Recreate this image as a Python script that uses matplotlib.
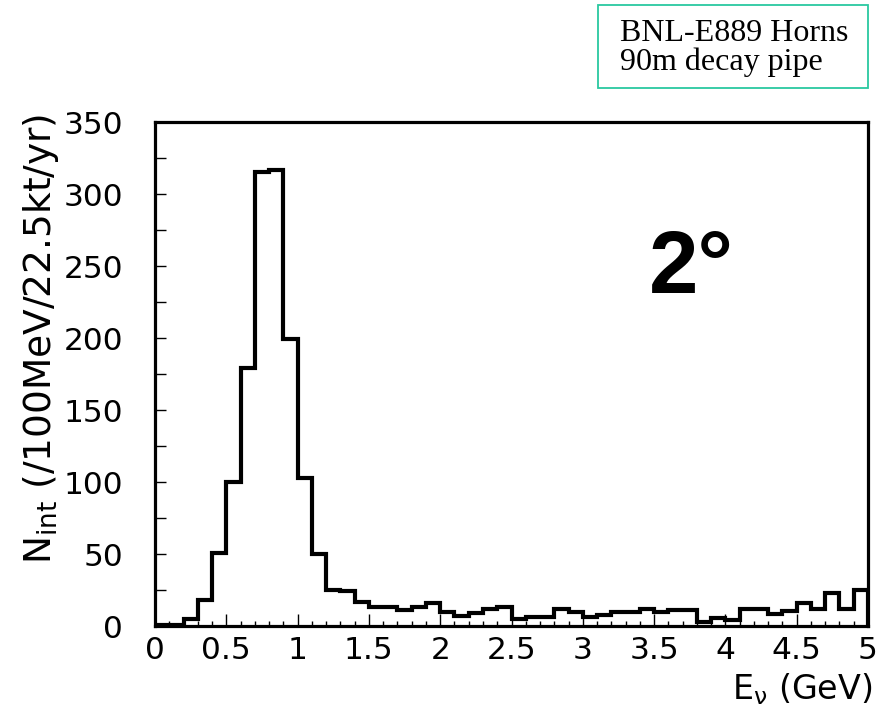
import matplotlib
matplotlib.use('Agg')
import matplotlib.pyplot as plt
import numpy as np
from matplotlib.patches import Rectangle

# neutrino interaction spectrum, 0.1 GeV bins from 0 to 5 GeV
edges = np.arange(0, 5.01, 0.1)
counts = [1, 1, 5, 18, 51, 100, 179, 315, 317, 199,
          103, 50, 25, 24, 17, 13.5, 13.5, 11, 13.5, 16,
          9.5, 7, 9, 11.5, 13, 5, 6, 6, 12, 10,
          6, 7.5, 10, 10, 11.5, 10, 11, 11, 3, 5.5,
          4.5, 11.5, 11.5, 8.5, 10.5, 16, 12, 23, 12, 25]

xticks = [0, 0.5, 1, 1.5, 2, 2.5, 3, 3.5, 4, 4.5, 5]
xticklabels = ['0', '0.5', '1', '1.5', '2', '2.5', '3', '3.5', '4', '4.5', '5']
yticks = [0, 50, 100, 150, 200, 250, 300, 350]

box_lines = ['BNL-E889 Horns', '90m decay pipe']
angle_label = '2\u00b0'

plt.rcParams['font.family'] = ['DejaVu Sans']
plt.rcParams['mathtext.fontset'] = 'custom'
plt.rcParams['mathtext.rm'] = 'DejaVu Sans'
plt.rcParams['mathtext.default'] = 'regular'

fig = plt.figure(figsize=(8.95, 7.1), dpi=100)
W, H = 895, 710
ax = fig.add_axes([155/W, 1-626/H, 713/W, 504/H])

ax.stairs(counts, edges, color='black', lw=3.0)

ax.set_xlim(0, 5)
ax.set_ylim(0, 350)
ax.set_xticks(xticks)
ax.set_xticklabels(xticklabels)
ax.set_xticks(np.arange(0, 5.01, 0.1), minor=True)
ax.set_yticks(yticks)
ax.set_yticks(np.arange(0, 351, 25), minor=True)

for s in ax.spines.values():
    s.set_linewidth(2.3)

ax.tick_params(axis='x', which='major', direction='in', length=8.5, width=1.0,
               labelsize=22.5, pad=7)
ax.tick_params(axis='x', which='minor', direction='in', length=3.5, width=1.0)
ax.tick_params(axis='y', which='both', direction='in', length=8, width=1.0,
               labelsize=22.5, pad=23)
ax.tick_params(top=False, right=False, which='both')

# axis titles
fig.text(41/W, 1-339/H, r'N$_{int}$ (/100MeV/22.5kt/yr)', rotation=90,
         ha='center', va='center', fontsize=27)
fig.text(872/W, 1-699/H, r'E$_{\nu}$ (GeV)', ha='right', va='baseline', fontsize=24)

# big angle label
fig.text(649/W, 1-293/H, angle_label, fontsize=64, fontweight='bold',
         family='Liberation Sans', ha='left', va='baseline')

# info box
fig.patches.append(Rectangle((598/W, 1-88/H), 270/W, 83/H, transform=fig.transFigure,
                             fill=False, edgecolor='#2ac8a0', lw=1.3))
fig.text(620/W, 1-41/H, box_lines[0], family='Liberation Serif', fontsize=23,
         va='baseline', ha='left')
fig.text(620/W, 1-70/H, box_lines[1], family='Liberation Serif', fontsize=23,
         va='baseline', ha='left')

fig.savefig('out.png', dpi=100)
